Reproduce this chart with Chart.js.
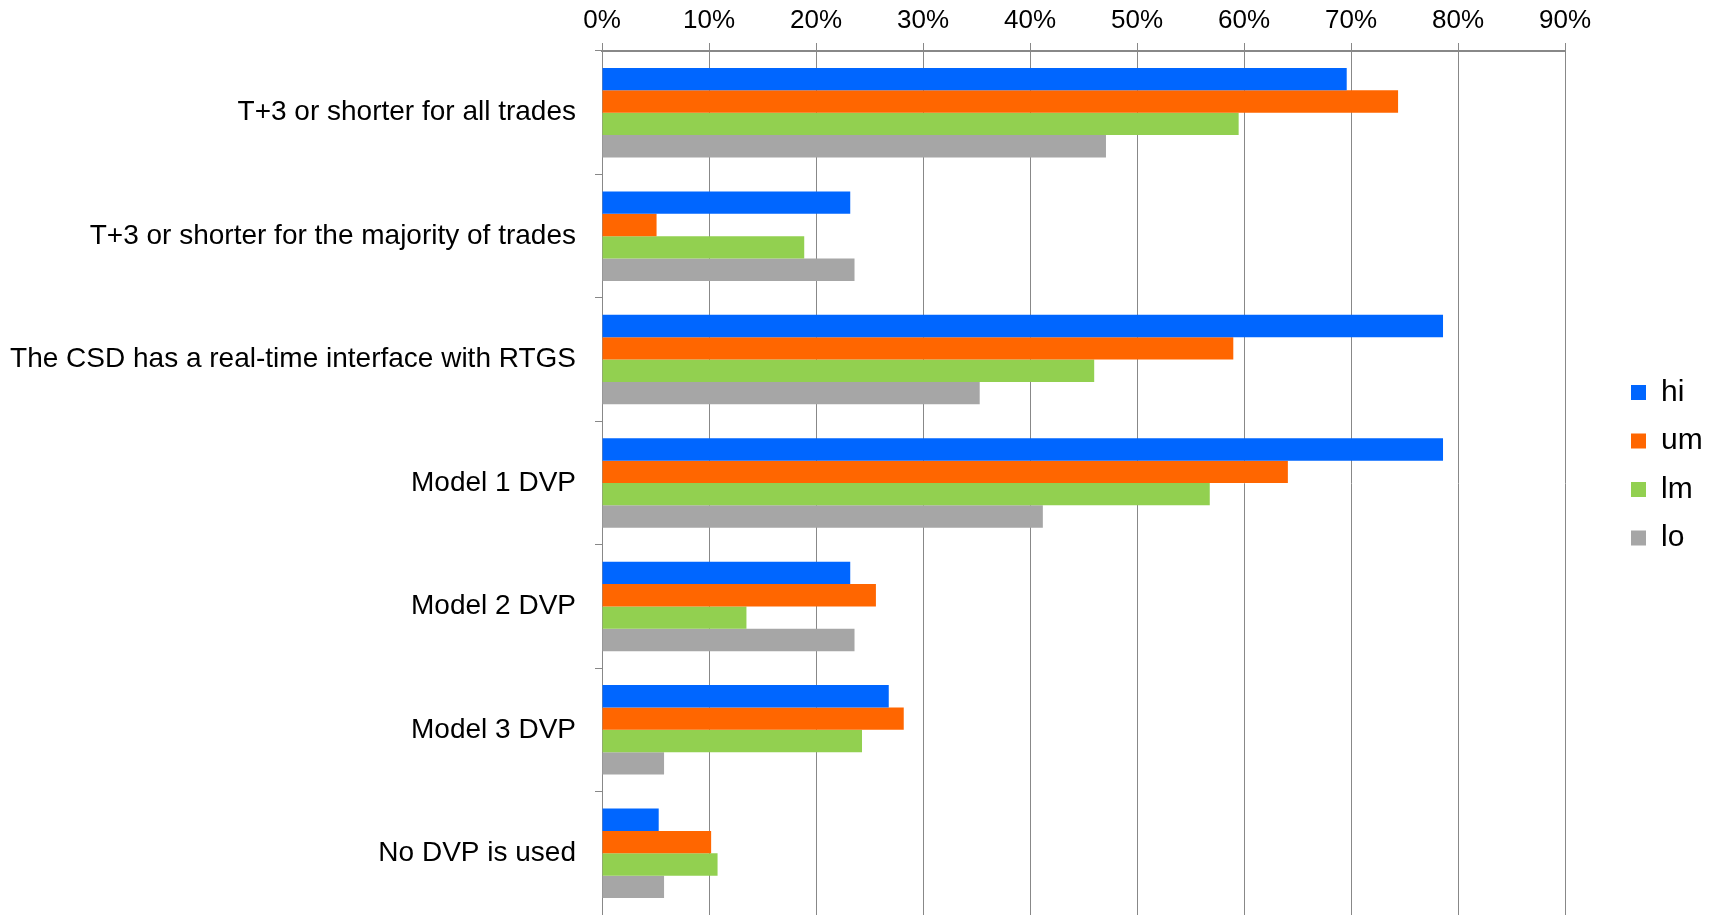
<!DOCTYPE html>
<html>
<head>
<meta charset="utf-8">
<script src="https://cdn.jsdelivr.net/npm/chart.js@4"></script>
<style>
  html, body { margin: 0; padding: 0; background: #fff; }
  #wrap { width: 1710px; height: 915px; }
</style>
</head>
<body>
<div id="wrap"><canvas id="chart"></canvas></div>
<script>
const categories = [
  'T+3 or shorter for all trades',
  'T+3 or shorter for the majority of trades',
  'The CSD has a real-time interface with RTGS',
  'Model 1 DVP',
  'Model 2 DVP',
  'Model 3 DVP',
  'No DVP is used'
];
const hi = [69.6, 23.2, 78.6, 78.6, 23.2, 26.8, 5.3];
const um = [74.4, 5.1, 59.0, 64.1, 25.6, 28.2, 10.2];
const lm = [59.5, 18.9, 46.0, 56.8, 13.5, 24.3, 10.8];
const lo = [47.1, 23.6, 35.3, 41.2, 23.6, 5.8, 5.8];
const tickValues = [0, 10, 20, 30, 40, 50, 60, 70, 80, 90];

const font = 'Arial, "Liberation Sans", sans-serif';
const gridGray = '#888888';

// legend sits well right of the plot, so pin its box and place it after layout
const legendSpot = {
  id: 'legendSpot',
  beforeInit(chart) {
    const fit = chart.legend.fit;
    chart.legend.fit = function () {
      fit.call(this);
      this.width = 1710 - 1565;
    };
  },
  afterLayout(chart) {
    const lg = chart.legend;
    const pad = lg.options.labels.padding;
    const colH = lg.columnSizes && lg.columnSizes[0] ? lg.columnSizes[0].height : 0;
    const w = lg.width;
    lg.left = 1631 - pad;
    lg.right = lg.left + w;
    lg.top = 377.5 - pad;
    lg.bottom = lg.top + pad + colH;
  }
};

new Chart(document.getElementById('chart'), {
  type: 'bar',
  data: {
    labels: categories,
    datasets: [
      { label: 'hi', data: hi, backgroundColor: '#0066FF' },
      { label: 'um', data: um, backgroundColor: '#FF6600' },
      { label: 'lm', data: lm, backgroundColor: '#92D050' },
      { label: 'lo', data: lo, backgroundColor: '#A6A6A6' }
    ]
  },
  options: {
    indexAxis: 'y',
    responsive: true,
    maintainAspectRatio: false,
    animation: false,
    layout: { padding: { top: 0, left: 0, right: 0, bottom: -2 } },
    datasets: {
      bar: { categoryPercentage: 0.725, barPercentage: 1.0, borderWidth: 0 }
    },
    scales: {
      x: {
        position: 'top',
        min: 0,
        max: 90,
        afterBuildTicks(scale) {
          scale.ticks = tickValues.map(v => ({ value: v }));
        },
        afterFit(scale) { scale.height = 51; },
        ticks: {
          color: '#000',
          font: { family: font, size: 26 },
          padding: 7,
          callback: v => v + '%'
        },
        grid: { color: gridGray, lineWidth: 1, tickLength: 8 },
        border: { color: gridGray, width: 2 }
      },
      y: {
        afterFit(scale) {
          scale.width = 602;
          scale.paddingTop = 0;
          scale.paddingBottom = 0;
        },
        ticks: {
          color: '#000',
          font: { family: font, size: 28 },
          padding: 19
        },
        grid: { offset: true, drawOnChartArea: false, color: gridGray, tickLength: 7 },
        border: { color: gridGray, width: 1 }
      }
    },
    plugins: {
      legend: {
        position: 'right',
        labels: {
          color: '#000',
          font: { family: font, size: 30 },
          boxWidth: 15,
          boxHeight: 15,
          padding: 18.5
        }
      },
      tooltip: { enabled: false }
    }
  },
  plugins: [legendSpot]
});
</script>
</body>
</html>
